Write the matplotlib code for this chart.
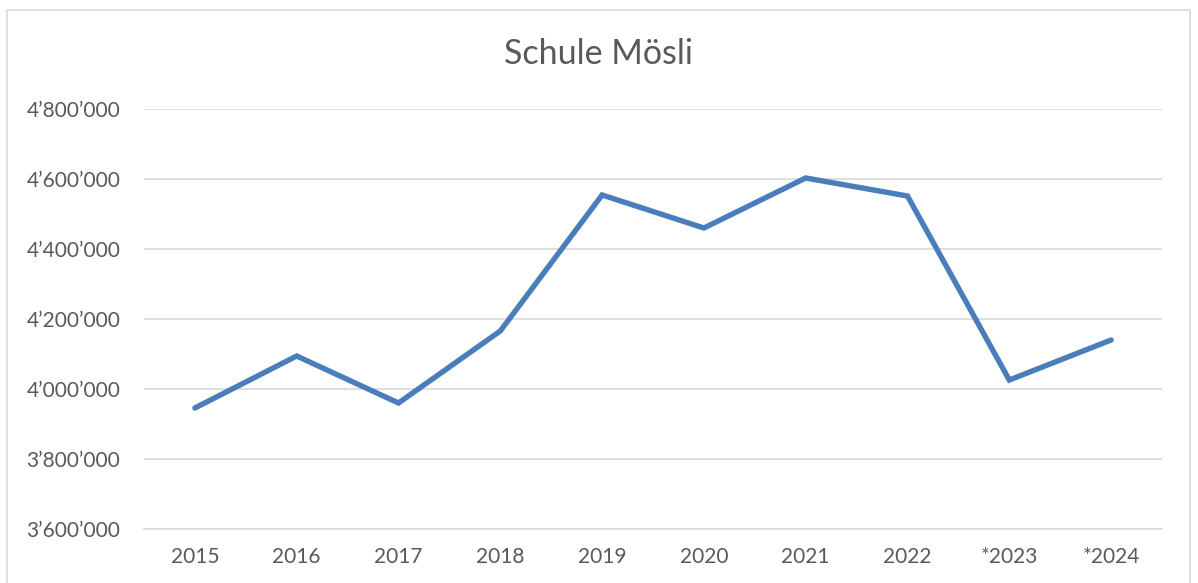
import matplotlib.pyplot as plt
from matplotlib.patches import Rectangle
from matplotlib.ticker import FuncFormatter

plt.rcParams['font.family'] = ['Lato', 'DejaVu Sans']

years = ['2015', '2016', '2017', '2018', '2019', '2020', '2021', '2022', '*2023', '*2024']
values = [3945700, 4094300, 3960000, 4165700, 4554300, 4460000, 4602900, 4551400, 4025700, 4140000]

text_col = '#595959'
grid_col = '#d9d9d9'
line_col = '#4a7ebb'

W, H = 1198, 583
fig = plt.figure(figsize=(W / 100, H / 100), dpi=100)

# chart border like an Excel chart frame
fig.patches.append(Rectangle((7 / W, -0.05), (1190 - 7) / W, 1.05 - 10 / H,
                             transform=fig.transFigure, fill=False,
                             edgecolor=grid_col, linewidth=1.2))

ax = fig.add_axes([144 / W, 1 - 529 / H, (1162 - 144) / W, (529 - 109) / H])

x = list(range(len(years)))
ax.plot(x, values, color=line_col, linewidth=3.9, solid_capstyle='round',
        solid_joinstyle='miter', zorder=3)

ax.set_xlim(-0.5, len(years) - 0.5)
ax.set_ylim(3600000, 4800000)
ax.set_yticks(range(3600000, 4800001, 200000))
ax.yaxis.set_major_formatter(FuncFormatter(lambda v, p: f"{int(v):,}".replace(',', '\u2019')))
ax.set_xticks(x)
ax.set_xticklabels(years)

ax.grid(axis='y', color=grid_col, linewidth=1.2)
ax.set_axisbelow(True)
for s in ['top', 'right', 'left']:
    ax.spines[s].set_visible(False)
ax.spines['bottom'].set_color(grid_col)
ax.spines['bottom'].set_linewidth(1.2)
ax.tick_params(axis='both', length=0, labelsize=15, colors=text_col)
ax.tick_params(axis='y', pad=17)
ax.tick_params(axis='x', pad=13)

fig.text(598 / W, 1 - 54 / H, 'Schule Mösli', ha='center', va='center',
         fontsize=24.5, color=text_col)

fig.savefig('out.png', dpi=100)
